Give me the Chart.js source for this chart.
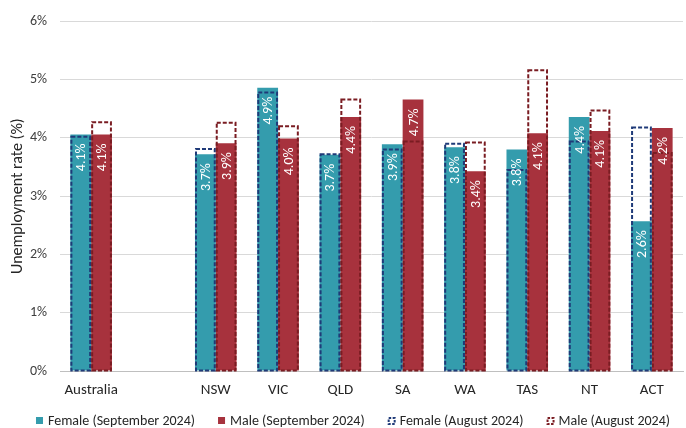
<!DOCTYPE html>
<html>
<head>
<meta charset="utf-8">
<script src="https://cdn.jsdelivr.net/npm/chart.js@4.4.1/dist/chart.umd.min.js"></script>
<style>
  html, body { margin: 0; padding: 0; background: #fff; }
  #wrap { width: 686px; height: 428px; }
</style>
</head>
<body>
<div id="wrap"><canvas id="myChart"></canvas></div>
<script>
const categories = ['Australia', '', 'NSW', 'VIC', 'QLD', 'SA', 'WA', 'TAS', 'NT', 'ACT'];
const femaleSep = [4.06, null, 3.72, 4.86, 3.71, 3.89, 3.84, 3.80, 4.36, 2.57];
const maleSep   = [4.06, null, 3.91, 3.99, 4.36, 4.66, 3.43, 4.08, 4.12, 4.17];
const femaleAug = [4.02, null, 3.81, 4.78, 3.72, 3.80, 3.90, 3.45, 3.94, 4.18];
const maleAug   = [4.27, null, 4.26, 4.20, 4.66, 3.94, 3.92, 5.16, 4.47, 3.74];
const yTicks = [0, 1, 2, 3, 4, 5, 6];

const fontFamily = 'Carlito, Lato, "Open Sans", sans-serif';
const teal = '#349CAD';
const red = '#A7323D';
const navy = '#1F3A78';
const darkRed = '#7A1C22';

// dashed outlines for the August bars (bar elements can't dash their border)
const dashedBars = {
    id: 'dashedBars',
    afterDatasetsDraw(chart) {
        const c = chart.ctx;
        chart.data.datasets.forEach((ds, i) => {
            if (!ds.dashColor) return;
            const meta = chart.getDatasetMeta(i);
            meta.data.forEach((bar, j) => {
                if (ds.data[j] == null) return;
                const p = bar.getProps(['x', 'y', 'base', 'width'], true);
                c.save();
                c.strokeStyle = ds.dashColor;
                c.lineWidth = 2;
                c.setLineDash([4, 2]);
                c.strokeRect(p.x - p.width / 2 + 1, p.y, p.width - 2, p.base - p.y);
                c.restore();
            });
        });
    }
};

// white rotated value labels on the September bars
const valueLabels = {
    id: 'valueLabels',
    afterDatasetsDraw(chart) {
        const c = chart.ctx;
        chart.data.datasets.forEach((ds, i) => {
            if (!ds.showValues) return;
            const meta = chart.getDatasetMeta(i);
            meta.data.forEach((bar, j) => {
                if (ds.data[j] == null) return;
                const p = bar.getProps(['x', 'y'], true);
                c.save();
                c.translate(p.x + 1, p.y + 9);
                c.rotate(-Math.PI / 2);
                c.fillStyle = '#ffffff';
                c.font = '14px ' + fontFamily;
                c.textAlign = 'right';
                c.textBaseline = 'middle';
                c.fillText(ds.data[j].toFixed(1) + '%', 0, 0);
                c.restore();
            });
        });
    }
};

// legend along the bottom, hollow dashed boxes for August
const bottomLegend = {
    id: 'bottomLegend',
    afterDraw(chart) {
        const c = chart.ctx;
        const ds = chart.data.datasets;
        c.save();
        c.font = '14px ' + fontFamily;
        c.textBaseline = 'middle';
        const box = 8, gap = 4, spacing = 23;
        const widths = ds.map(d => box + gap + c.measureText(d.label).width);
        const total = widths.reduce((a, b) => a + b, 0) + spacing * (ds.length - 1);
        let x = 353 - total / 2;
        const y = 421;
        ds.forEach((d, i) => {
            if (d.dashColor) {
                c.strokeStyle = d.dashColor;
                c.lineWidth = 2;
                c.setLineDash([2.5, 1.5]);
                c.strokeRect(x + 1, y - box / 2 + 1, box - 2, box - 2);
                c.setLineDash([]);
            } else {
                c.fillStyle = d.backgroundColor;
                c.fillRect(x, y - box / 2, box - 1, box - 1);
            }
            c.fillStyle = '#262626';
            c.fillText(d.label, x + box + gap, y);
            x += widths[i] + spacing;
        });
        c.restore();
    }
};

new Chart(document.getElementById('myChart'), {
    type: 'bar',
    data: {
        labels: categories,
        datasets: [
            { label: 'Female (September 2024)', data: femaleSep, backgroundColor: teal, stack: 'f', showValues: true },
            { label: 'Male (September 2024)', data: maleSep, backgroundColor: red, stack: 'm', showValues: true },
            { label: 'Female (August 2024)', data: femaleAug, backgroundColor: 'rgba(0,0,0,0)', stack: 'f', dashColor: navy },
            { label: 'Male (August 2024)', data: maleAug, backgroundColor: 'rgba(0,0,0,0)', stack: 'm', dashColor: darkRed }
        ]
    },
    options: {
        responsive: true,
        maintainAspectRatio: false,
        animation: false,
        categoryPercentage: 0.667,
        barPercentage: 1,
        layout: { padding: { left: 0, right: 3, top: 19, bottom: 27 } },
        plugins: {
            tooltip: { enabled: false },
            legend: { display: false }
        },
        scales: {
            x: {
                afterFit: (s) => { s.height = 30; },
                grid: { display: false, drawTicks: false },
                border: { color: '#BFBFBF' },
                ticks: { color: '#262626', font: { family: fontFamily, size: 15 }, padding: 10, autoSkip: false, maxRotation: 0 }
            },
            y: {
                stacked: false,
                min: 0,
                max: 6,
                afterFit: (s) => { s.width = 60; },
                afterBuildTicks: (s) => { s.ticks = yTicks.map(v => ({ value: v })); },
                grid: { color: '#D9D9D9', drawTicks: false },
                border: { display: false },
                ticks: { color: '#404040', padding: 13, font: { family: fontFamily, size: 14 }, callback: v => v + '%' },
                title: { display: true, text: 'Unemployment rate (%)', color: '#262626', font: { family: fontFamily, size: 16 }, padding: { top: 8, bottom: 0 } }
            }
        }
    },
    plugins: [dashedBars, valueLabels, bottomLegend]
});
</script>
</body>
</html>
